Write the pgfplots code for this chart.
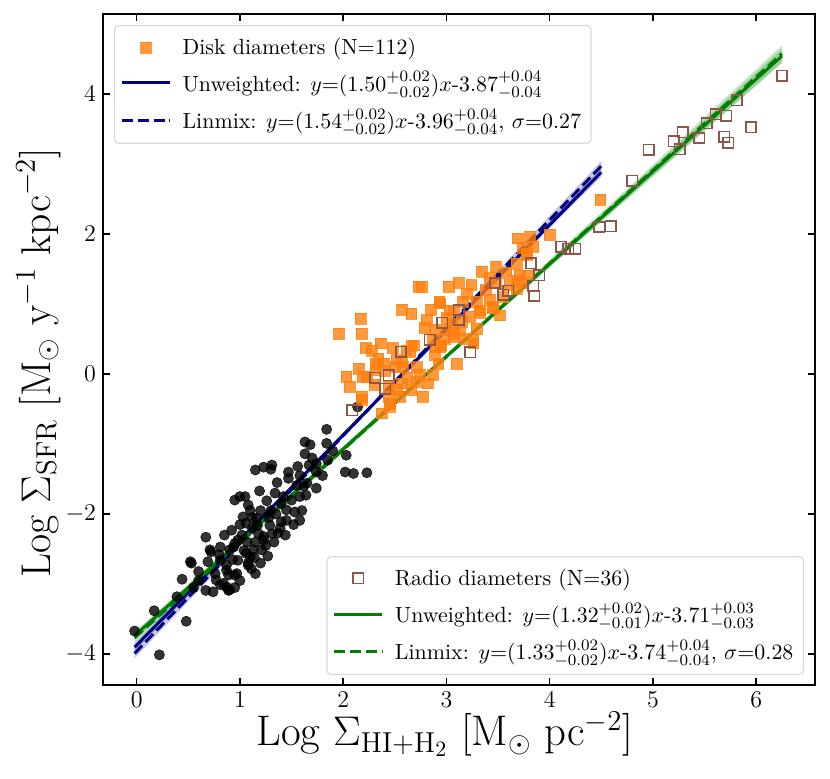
\documentclass[border=0pt]{standalone}
\usepackage{pgfplots}
\pgfplotsset{compat=1.18}
\definecolor{tabor}{HTML}{FF7F0E}
\definecolor{tabbr}{HTML}{8C564B}
\definecolor{navyc}{HTML}{000080}
\definecolor{grn}{HTML}{008000}
\pgfplotsset{
  lineleg/.style={legend image code/.code={\draw[##1] (0pt,0pt) -- (24pt,0pt);}},
  markleg/.style={legend image code/.code={\draw[##1] plot coordinates {(12pt,0pt)};}},
  myleg/.style={legend cell align=left, legend style={draw=black!15, rounded corners=2pt, fill=white, fill opacity=0.8, text opacity=1, line width=0.6pt, font=\fontsize{10.95}{13}\selectfont, inner xsep=3pt, inner ysep=4pt, row sep=3.3pt, /tikz/every odd column/.append style={column sep=3.5pt}}},
  common/.style={scale only axis, width=356pt, height=335.5pt, xmin=-0.326, xmax=6.57, ymin=-4.44, ymax=5.14},
}
\begin{document}
\begin{tikzpicture}
\begin{axis}[common,
  xtick={0,1,2,3,4,5,6}, ytick={-4,-2,0,2,4}, minor tick num=0,
  tick align=inside, major tick length=3.5pt,
  axis line style={line width=0.7pt}, tick style={line width=0.7pt, black},
  tick label style={font=\fontsize{12.5}{14}\selectfont},
  xlabel={Log $\Sigma_{\mathrm{HI+H_2}}$ [M$_\odot$ pc$^{-2}$]},
  ylabel={Log $\Sigma_{\mathrm{SFR}}$ [M$_\odot$ y$^{-1}$ kpc$^{-2}$]},
  xlabel style={font=\fontsize{21.4}{25}\selectfont, at={(axis description cs:0.48,-0.0909)}, anchor=base},
  ylabel style={font=\fontsize{20.8}{25}\selectfont, at={(axis description cs:-0.0744,0.48)}, anchor=base},
  myleg, legend style={at={(0.0154,0.9836)}, anchor=north west}]
% black circles
\addplot[forget plot, only marks, mark=*, mark size=2.55pt, mark options={fill=black, draw=black, fill opacity=0.8, draw opacity=0.8, line width=0.3pt}] coordinates {
(-0.02,-3.67) (0.22,-4.01) (0.17,-3.38) (0.48,-3.53) (0.39,-3.18) (0.44,-2.93) (0.53,-2.70) (0.60,-2.82) (0.67,-2.33) (0.67,-3.09) (0.74,-3.11) (0.72,-2.54) (0.81,-2.47) (0.69,-2.68) (0.77,-2.94) (0.84,-2.99) (0.89,-3.09) (0.81,-3.01) (0.87,-2.80) (0.92,-2.23) (0.95,-1.80) (1.00,-1.75) (1.05,-1.75) (1.08,-1.87) (1.03,-2.04) (0.94,-2.47) (0.98,-2.66) (0.95,-2.87) (1.08,-2.70) (1.11,-2.78) (1.06,-2.56) (1.13,-2.51) (1.23,-2.32) (1.19,-1.67) (1.34,-1.70) (1.15,-1.37) (1.23,-1.33) (1.31,-1.30) (1.30,-1.36) (1.47,-1.40) (1.47,-1.49) (1.56,-1.32) (1.58,-1.75) (1.64,-1.73) (1.65,-1.56) (1.55,-1.59) (1.74,-1.63) (1.74,-1.40) (1.74,-1.28) (1.63,-0.97) (1.68,-1.01) (1.63,-1.14) (1.84,-0.79) (1.84,-0.99) (1.85,-1.23) (2.03,-1.16) (2.02,-1.40) (2.10,-1.42) (2.23,-1.41) (2.14,-0.47) (1.67,-1.30) (1.26,-1.81) (1.06,-2.13) (1.16,-2.06) (1.29,-2.16) (1.31,-2.28) (1.40,-2.11) (1.45,-2.09) (1.53,-1.97) (1.58,-2.09) (1.45,-1.94) (1.39,-2.20) (1.44,-2.30) (1.23,-2.37) (1.21,-2.51) (0.95,-2.42) (1.10,-2.61) (0.90,-2.51) (0.71,-2.51) (0.81,-2.66) (0.87,-2.73) (1.08,-2.73) (0.76,-2.85) (0.89,-2.87) (0.97,-2.85) (0.87,-3.04) (0.90,-3.08) (1.12,-2.20) (1.18,-2.28) (1.25,-2.45) (1.33,-2.40) (1.02,-2.30) (1.07,-2.40) (1.15,-2.40) (1.28,-2.05) (1.35,-2.00) (1.20,-1.95) (1.10,-1.95) (1.00,-2.15) (1.40,-1.85) (1.50,-1.80) (1.52,-2.15) (1.60,-1.95) (1.36,-1.55) (1.42,-1.75) (1.20,-2.70) (1.15,-2.85) (1.00,-2.95) (0.93,-2.65) (1.04,-2.52) (1.27,-2.60) (0.85,-2.30) (0.80,-2.58) (0.60,-2.95) (0.55,-3.05) (0.95,-3.05) (1.70,-1.20) (1.80,-1.45) (1.90,-1.10) (1.58,-1.45) (1.62,-1.60) (0.52,-2.68) (1.12,-2.05) (1.30,-1.95) (1.17,-2.16) (1.37,-2.27) (0.98,-2.37) (1.14,-2.62)
};
% orange squares
\addplot[only marks, mark=square*, mark size=2.7pt, mark options={fill=tabor, draw=tabor, fill opacity=0.8, draw opacity=0.8, line width=0.2pt}, markleg] coordinates {
(1.96,0.58) (2.17,0.79) (2.18,0.58) (2.22,0.37) (2.28,0.33) (2.36,0.44) (2.48,0.37) (2.57,0.92) (2.66,0.86) (2.73,1.25) (2.81,0.77) (2.79,0.66) (2.66,0.40) (2.52,0.20) (2.65,0.32) (2.58,0.10) (2.71,0.10) (2.15,0.08) (2.03,-0.04) (2.06,-0.18) (2.18,-0.32) (2.23,-0.04) (2.31,0.15) (2.39,0.15) (2.34,0.22) (2.50,0.10) (2.44,-0.18) (2.57,-0.13) (2.55,-0.32) (2.45,-0.42) (2.37,-0.56) (2.74,-0.01) (2.87,-0.01) (2.82,-0.13) (2.77,-0.32) (3.02,1.25) (3.12,1.30) (3.24,1.27) (2.93,1.03) (3.03,0.91) (3.16,1.03) (3.29,1.03) (3.34,1.46) (3.48,1.53) (3.42,1.06) (3.23,0.82) (3.32,0.87) (3.45,0.94) (3.07,0.58) (2.90,0.39) (3.00,0.63) (3.13,0.63) (2.89,0.27) (2.95,0.41) (3.26,0.49) (3.10,0.15) (3.69,1.94) (3.81,1.96) (4.00,1.99) (3.78,1.72) (3.71,1.41) (3.79,1.41) (3.61,1.27) (3.74,1.30) (3.68,1.58) (4.49,2.49) (2.76,1.25) (3.69,1.34) (3.48,1.30) (3.42,1.37) (3.68,1.22) (3.07,0.91) (3.32,0.91) (3.45,0.96) (3.52,0.84) (3.15,0.75) (3.05,0.72) (2.89,0.63) (3.29,0.65) (3.07,0.53) (2.87,0.49) (2.94,0.39) (3.26,0.44) (3.74,1.80) (3.84,1.82) (3.78,1.70) (2.19,-0.04) (2.31,0.06) (2.61,0.34) (2.57,0.18) (2.71,-0.11) (2.44,-0.32) (2.45,-0.47) (2.18,-0.37) (2.94,1.01) (2.68,0.41) (2.40,0.05) (2.62,-0.05) (2.92,0.15) (3.00,0.80) (3.20,1.15) (3.55,1.10) (3.58,1.45) (3.38,1.20) (2.85,0.92) (2.98,0.50) (3.18,0.50) (2.52,-0.22) (2.66,-0.22) (2.30,-0.15)
};
\addlegendentry{Disk diameters (N=112)}
% brown open squares
\addplot[forget plot, only marks, mark=square, mark size=2.6pt, mark options={draw=tabbr, line width=0.8pt, fill=none}] coordinates {
(6.25,4.26) (5.95,3.52) (5.81,3.91) (5.71,3.69) (5.61,3.71) (5.52,3.58) (5.69,3.39) (5.73,3.30) (5.45,3.37) (5.29,3.45) (5.20,3.32) (5.26,3.21) (4.96,3.20) (4.80,2.76) (4.48,2.10) (4.59,2.11) (4.11,1.82) (4.18,1.79) (4.25,1.79) (3.82,1.58) (3.90,1.41) (3.85,1.12) (3.60,1.19) (3.55,1.13) (3.47,1.30) (3.12,0.91) (3.12,0.77) (2.96,0.73) (2.84,0.49) (3.23,0.31) (2.56,0.32) (2.44,-0.02) (2.31,-0.05) (2.41,-0.21) (2.09,-0.52) (3.84,1.26)
};
% confidence bands
\addplot[forget plot, draw=none, fill=navyc, fill opacity=0.22] coordinates {(-0.02,-3.96) (1.1,-2.25) (2.2,-0.59) (3.35,1.12) (4.5,2.82) (4.5,2.94) (3.35,1.19) (2.2,-0.55) (1.1,-2.19) (-0.02,-3.84)} -- cycle;
\addplot[forget plot, draw=none, fill=navyc, fill opacity=0.22] coordinates {(-0.02,-4.06) (1.1,-2.31) (2.2,-0.60) (3.35,1.16) (4.5,2.90) (4.5,3.04) (3.35,1.24) (2.2,-0.55) (1.1,-2.23) (-0.02,-3.92)} -- cycle;
\addplot[forget plot, draw=none, fill=grn, fill opacity=0.22] coordinates {(-0.02,-3.80) (1.5,-1.77) (3.2,0.48) (4.7,2.43) (6.25,4.44) (6.25,4.64) (4.7,2.55) (3.2,0.54) (1.5,-1.69) (-0.02,-3.68)} -- cycle;
\addplot[forget plot, draw=none, fill=grn, fill opacity=0.22] coordinates {(-0.02,-3.84) (1.5,-1.79) (3.2,0.49) (4.7,2.44) (6.25,4.45) (6.25,4.69) (4.7,2.58) (3.2,0.55) (1.5,-1.70) (-0.02,-3.70)} -- cycle;
% fit lines
\addplot[navyc, line width=1.5pt, lineleg] coordinates {(-0.02,-3.90) (4.5,2.88)};
\addlegendentry{Unweighted: $y$=(1.50$^{+0.02}_{-0.02}$)$x$-3.87$^{+0.04}_{-0.04}$}
\addplot[navyc, line width=1.5pt, dash pattern=on 5.5pt off 2.4pt, lineleg] coordinates {(-0.02,-3.99) (4.5,2.97)};
\addlegendentry{Linmix: $y$=(1.54$^{+0.02}_{-0.02}$)$x$-3.96$^{+0.04}_{-0.04}$, $\sigma$=0.27}
\addplot[forget plot, grn, line width=1.5pt] coordinates {(-0.02,-3.736) (6.25,4.54)};
\addplot[forget plot, grn, line width=1.5pt, dash pattern=on 5.5pt off 2.4pt] coordinates {(-0.02,-3.767) (6.25,4.5725)};
\end{axis}
\begin{axis}[common, hide axis, myleg, legend style={at={(0.9846,0.0149)}, anchor=south east}]
\addlegendimage{only marks, mark=square, mark size=2.6pt, mark options={draw=tabbr, line width=0.8pt, fill=none}, markleg}
\addlegendentry{Radio diameters (N=36)}
\addlegendimage{grn, line width=1.5pt, lineleg}
\addlegendentry{Unweighted: $y$=(1.32$^{+0.02}_{-0.01}$)$x$-3.71$^{+0.03}_{-0.03}$}
\addlegendimage{grn, line width=1.5pt, dash pattern=on 5.5pt off 2.4pt, lineleg}
\addlegendentry{Linmix: $y$=(1.33$^{+0.02}_{-0.02}$)$x$-3.74$^{+0.04}_{-0.04}$, $\sigma$=0.28}
\end{axis}
\pgfresetboundingbox
\path (-51.5pt,-47pt) rectangle (363.5pt,342.5pt);
\end{tikzpicture}
\end{document}
